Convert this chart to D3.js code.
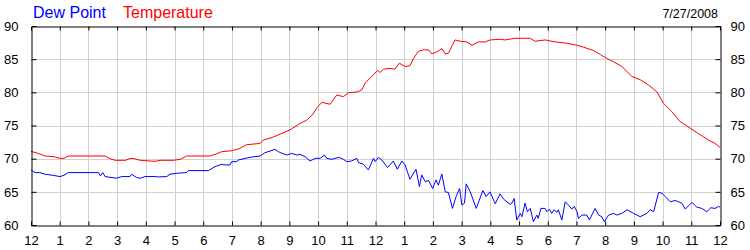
<!DOCTYPE html>
<html><head><meta charset="utf-8">
<script src="https://cdn.jsdelivr.net/npm/d3@7"></script>
<style>body{margin:0;background:#fff}svg{display:block;font-family:"Liberation Sans",Arial,sans-serif}</style>
</head><body>
<script>
const xTickLabels = ["12","1","2","3","4","5","6","7","8","9","10","11","12","1","2","3","4","5","6","7","8","9","10","11","12"];
const yTicks = [60,65,70,75,80,85,90];
const seriesNames = ["Dew Point","Temperature"];
const seriesColors = ["#0000ff","#ff0000"];
const dateLabel = "7/27/2008";

const tempData = [[0,71.1],[0.25,70.8],[0.49,70.4],[0.8,70.3],[1.01,70.05],[1.15,70.05],[1.3,70.4],[2.58,70.4],[2.75,70.0],[2.93,69.75],[3.3,69.75],[3.45,70.05],[3.6,70.0],[3.8,69.75],[4.32,69.6],[4.5,69.75],[4.95,69.75],[5.2,69.9],[5.42,70.4],[6.24,70.4],[6.45,70.7],[6.64,71.05],[6.99,71.2],[7.25,71.5],[7.51,72.1],[7.98,72.3],[8.09,72.8],[8.4,73.2],[8.68,73.7],[9.0,74.3],[9.37,75.3],[9.6,75.8],[9.8,76.6],[9.95,77.6],[10.13,78.5],[10.42,78.2],[10.65,79.6],[10.88,79.35],[11.06,79.95],[11.35,80.05],[11.52,80.35],[11.64,81.4],[11.87,82.4],[12.07,83.3],[12.16,83.0],[12.28,83.5],[12.51,83.6],[12.68,83.5],[12.83,84.4],[13.03,83.9],[13.2,84.0],[13.32,85.1],[13.5,86.2],[13.67,86.4],[13.85,86.4],[13.96,85.8],[14.14,86.1],[14.31,86.6],[14.43,85.8],[14.54,85.9],[14.77,87.9],[14.95,87.7],[15.18,87.6],[15.36,87.1],[15.59,87.6],[15.82,87.6],[16.0,87.9],[16.34,88.0],[16.52,87.9],[16.86,88.15],[17.39,88.15],[17.56,87.7],[17.91,87.9],[18.26,87.6],[18.67,87.4],[19.02,87.1],[19.25,86.8],[19.6,86.3],[19.83,85.7],[20.06,85.1],[20.29,84.6],[20.58,83.9],[20.93,82.4],[21.22,81.9],[21.51,81.1],[21.8,80.1],[22.03,78.35],[22.32,77.1],[22.61,75.6],[22.96,74.6],[23.31,73.6],[23.6,72.8],[23.83,72.3],[24,71.7]];

const dewData = [[0,68.3],[0.14,67.9],[0.31,67.9],[0.49,67.65],[0.75,67.5],[1.01,67.3],[1.15,67.5],[1.3,67.9],[2.35,67.9],[2.42,67.4],[2.5,67.9],[2.58,67.3],[2.75,67.2],[2.98,67.05],[3.16,67.3],[3.45,67.3],[3.5,67.65],[3.68,67.15],[3.8,67.05],[3.97,67.3],[4.32,67.3],[4.44,67.25],[4.73,67.3],[4.84,67.65],[5.08,67.8],[5.42,67.9],[5.48,68.2],[6.18,68.2],[6.41,68.8],[6.64,69.15],[6.76,69.05],[6.93,69.05],[6.99,69.55],[7.17,69.55],[7.22,69.8],[7.63,70.2],[7.98,70.4],[8.15,70.9],[8.5,71.4],[8.62,71.05],[8.75,70.8],[8.91,70.55],[9.08,70.8],[9.26,70.55],[9.37,70.65],[9.55,70.3],[9.72,69.65],[9.9,70.05],[10.07,70.05],[10.22,70.55],[10.3,70.05],[10.48,69.9],[10.59,70.05],[10.74,70.2],[10.88,69.9],[11.0,69.55],[11.17,69.65],[11.35,70.05],[11.41,69.4],[11.58,69.15],[11.75,68.3],[11.93,70.05],[11.99,69.55],[12.1,70.2],[12.22,69.8],[12.42,68.65],[12.62,69.65],[12.76,68.4],[12.92,69.65],[13.03,69.05],[13.2,66.9],[13.41,68.4],[13.53,65.8],[13.61,67.55],[13.73,66.55],[13.85,66.7],[13.99,65.5],[14.11,66.8],[14.19,66.0],[14.31,67.7],[14.43,65.0],[14.54,64.9],[14.68,62.5],[14.81,64.3],[14.93,65.5],[15.01,63.0],[15.1,63.3],[15.16,66.2],[15.3,65.0],[15.51,62.5],[15.74,65.2],[15.85,64.3],[15.99,65.0],[16.17,63.2],[16.34,64.7],[16.46,63.9],[16.69,63.1],[16.75,63.3],[16.83,64.0],[16.92,60.75],[17.04,61.75],[17.1,61.25],[17.21,63.3],[17.29,62.0],[17.39,62.5],[17.5,60.5],[17.62,61.5],[17.67,61.0],[17.76,62.5],[17.91,62.5],[17.97,62.0],[18.06,62.4],[18.14,61.75],[18.22,62.3],[18.32,61.9],[18.37,62.3],[18.49,60.75],[18.61,63.5],[18.72,63.0],[18.84,62.4],[18.92,62.8],[19.02,62.0],[19.07,61.0],[19.19,61.5],[19.36,61.5],[19.45,60.75],[19.65,62.5],[19.77,61.5],[19.88,61.25],[19.97,60.5],[20.12,61.5],[20.29,61.75],[20.41,61.5],[20.58,61.75],[20.76,62.3],[20.99,61.75],[21.22,61.25],[21.45,61.75],[21.57,62.3],[21.69,62.0],[21.86,64.9],[21.98,64.8],[22.09,64.3],[22.27,63.5],[22.44,63.7],[22.67,63.3],[22.79,62.4],[23.02,63.4],[23.19,62.7],[23.37,62.5],[23.54,62.0],[23.68,62.6],[23.83,62.5],[23.95,62.8],[24,62.7]];

const W = 750, H = 250;
const L = 31, R = 720, T = 26, B = 225;
const svg = d3.select("body").append("svg").attr("width", W).attr("height", H);
svg.append("rect").attr("width", W).attr("height", H).attr("fill", "#fff");

const x = d3.scaleLinear().domain([0, 24]).range([L, R]);
const y = d3.scaleLinear().domain([60, 90]).range([B, T]);
const hours = d3.range(0, 25);

// grid
const grid = svg.append("g").attr("stroke", "#d0d0d0").attr("stroke-width", 1);
hours.slice(1, 24).forEach(h => {
  const px = Math.round(x(h)) + 0.5;
  grid.append("line").attr("x1", px).attr("x2", px).attr("y1", T).attr("y2", B);
});
yTicks.slice(1, -1).forEach(v => {
  const py = Math.round(y(v)) + 0.5;
  grid.append("line").attr("x1", L).attr("x2", R).attr("y1", py).attr("y2", py);
});

// lines
const line = d3.line().x(d => x(d[0])).y(d => y(d[1]));
svg.append("path").datum(dewData).attr("d", line).attr("fill", "none").attr("stroke", seriesColors[0]).attr("stroke-width", 1);
svg.append("path").datum(tempData).attr("d", line).attr("fill", "none").attr("stroke", seriesColors[1]).attr("stroke-width", 1);

// axes with inward ticks
const fmtX = (d, i) => xTickLabels[i];
const axB = svg.append("g").attr("transform", `translate(0,${B + 0.5})`)
  .call(d3.axisBottom(x).tickValues(hours).tickSize(-4).tickPadding(10).tickFormat((d) => xTickLabels[d]));
const axT = svg.append("g").attr("transform", `translate(0,${T + 0.5})`)
  .call(d3.axisTop(x).tickValues(hours).tickSize(-4).tickFormat(""));
const axL = svg.append("g").attr("transform", `translate(${L + 0.5},0)`)
  .call(d3.axisLeft(y).tickValues(yTicks).tickSize(-5).tickPadding(13).tickFormat(d3.format("d")));
const axR = svg.append("g").attr("transform", `translate(${R + 0.5},0)`)
  .call(d3.axisRight(y).tickValues(yTicks).tickSize(-5).tickPadding(10).tickFormat(d3.format("d")));
[axB, axT, axL, axR].forEach(a => {
  a.select(".domain").attr("stroke", "#000").attr("stroke-width", 1);
  a.selectAll(".tick line").attr("stroke", "#000");
  a.selectAll(".tick text").attr("fill", "#000").style("font-size", "13px").style("font-family", '"Liberation Sans", Arial, sans-serif');
});
axB.selectAll(".tick text").attr("dy", "0.71em");
axB.selectAll(".tick line").filter((d) => d === 0 || d === 24).remove();
axT.selectAll(".tick line").filter((d) => d === 0 || d === 24).remove();
axL.selectAll(".tick line").filter((d) => d === 60 || d === 90).remove();
axR.selectAll(".tick line").filter((d) => d === 60 || d === 90).remove();

// legend
svg.append("text").attr("x", 33).attr("y", 18).attr("fill", seriesColors[0]).style("font-size", "16px").text(seriesNames[0]);
svg.append("text").attr("x", 123).attr("y", 18).attr("fill", seriesColors[1]).style("font-size", "16px").text(seriesNames[1]);
svg.append("text").attr("x", 718).attr("y", 18).attr("text-anchor", "end").attr("fill", "#000").style("font-size", "12.5px").text(dateLabel);
</script>
</body></html>
